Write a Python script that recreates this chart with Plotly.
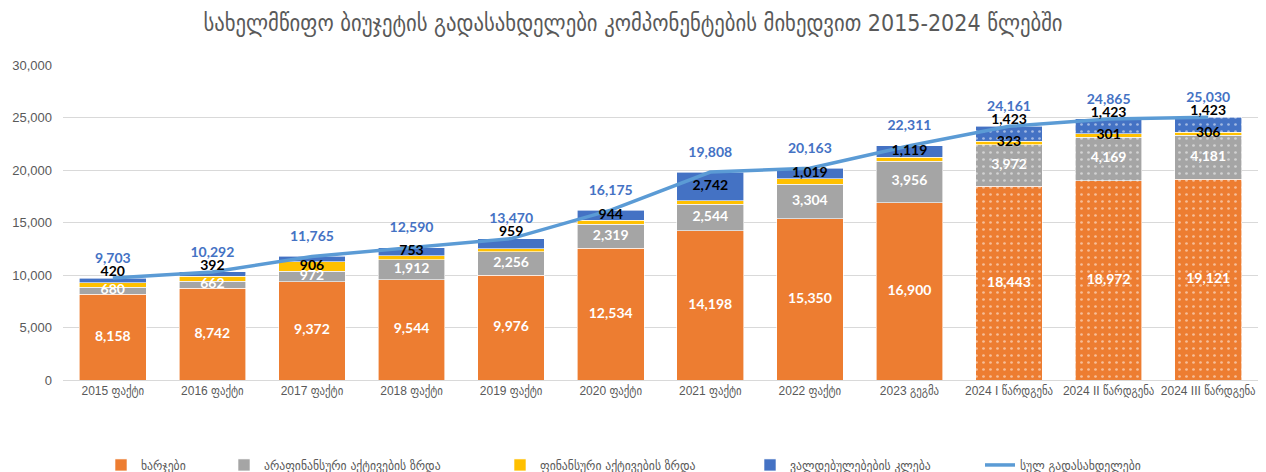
import plotly.graph_objects as go

categories = ["2015 ფაქტი", "2016 ფაქტი", "2017 ფაქტი", "2018 ფაქტი", "2019 ფაქტი",
              "2020 ფაქტი", "2021 ფაქტი", "2022 ფაქტი", "2023 გეგმა",
              "2024 I წარდგენა", "2024 II წარდგენა", "2024 III წარდგენა"]
expenses = [8158, 8742, 9372, 9544, 9976, 12534, 14198, 15350, 16900, 18443, 18972, 19121]
nonfin_assets = [680, 662, 972, 1912, 2256, 2319, 2544, 3304, 3956, 3972, 4169, 4181]
fin_assets = [445, 496, 906, 381, 279, 378, 324, 490, 336, 323, 301, 306]
liabilities = [420, 392, 515, 753, 959, 944, 2742, 1019, 1119, 1423, 1423, 1423]
totals = [9703, 10292, 11765, 12590, 13470, 16175, 19808, 20163, 22311, 24161, 24865, 25030]

# which labels are shown (as in the reference)
fin_label_shown = [False, False, True, False, False, False, False, False, False, True, True, True]
liab_label_mode = ["above", "above", "none", "in", "above", "in", "in", "in", "in", "above", "above", "above"]
is_projection = [False] * 9 + [True] * 3

names = ["ხარჯები", "არაფინანსური აქტივების ზრდა", "ფინანსური აქტივების ზრდა",
         "ვალდებულებების კლება", "სულ გადასახდელები"]
colors = ["#ED7D31", "#A5A5A5", "#FFC000", "#4472C4"]
line_color = "#5B9BD5"
total_label_color = "#4472C4"

NUM_FONT = "Lato, Liberation Sans, sans-serif"
AX_FONT = "Liberation Sans, DejaVu Sans Condensed, DejaVu Sans, sans-serif"
GEO_FONT = "DejaVu Sans Condensed, DejaVu Sans, sans-serif"

# legend placement (px from left of the page)
legend_px = [101, 224, 500, 750, 980]
legend_ids = ["legend", "legend2", "legend3", "legend4", "legend5"]

fig = go.Figure()

series = [expenses, nonfin_assets, fin_assets, liabilities]
pattern_shapes = ["." if p else "" for p in is_projection]
for i, (vals, nm, col) in enumerate(zip(series, names[:4], colors)):
    fig.add_trace(go.Bar(
        x=categories, y=vals, name=nm, legend=legend_ids[i],
        marker=dict(color=col, line=dict(color="white", width=0.6),
                    pattern=dict(shape=pattern_shapes, fgcolor="white", fillmode="overlay",
                                 size=7, solidity=0.12)),
        hoverinfo="skip",
    ))

fig.add_trace(go.Scatter(
    x=categories, y=totals, name=names[4], mode="lines", legend=legend_ids[4],
    line=dict(color=line_color, width=3.5), hoverinfo="skip",
))

exp_mid = [e / 2 for e in expenses]
nf_mid = [e + n / 2 for e, n in zip(expenses, nonfin_assets)]
fin_mid = [e + n + f / 2 for e, n, f in zip(expenses, nonfin_assets, fin_assets)]
liab_mid = [e + n + f + l / 2 for e, n, f, l in zip(expenses, nonfin_assets, fin_assets, liabilities)]


def fmt(v):
    return f"{v:,}"


def text_trace(xs, ys, texts, color):
    return go.Scatter(
        x=xs, y=ys, mode="text", text=texts,
        textfont=dict(family=NUM_FONT, size=14, color=color, weight="bold"),
        showlegend=False, hoverinfo="skip", cliponaxis=False)


fig.add_trace(text_trace(categories, exp_mid, [fmt(v) for v in expenses], "white"))
fig.add_trace(text_trace(categories, nf_mid, [fmt(v) for v in nonfin_assets], "white"))

fx = [c for c, s in zip(categories, fin_label_shown) if s]
fy = [m for m, s in zip(fin_mid, fin_label_shown) if s]
ft = [fmt(v) for v, s in zip(fin_assets, fin_label_shown) if s]
fig.add_trace(text_trace(fx, fy, ft, "black"))

lx, ly, lt = [], [], []
for c, m, t, v, mode in zip(categories, liab_mid, totals, liabilities, liab_label_mode):
    if mode == "none":
        continue
    lx.append(c)
    ly.append(m if mode == "in" else t + 550)
    lt.append(fmt(v))
fig.add_trace(text_trace(lx, ly, lt, "black"))

fig.add_trace(text_trace(categories, [t + 1800 for t in totals],
                         [fmt(v) for v in totals], total_label_color))

L, R, T, B = 63, 8, 65, 92
W, H = 1266, 472
plot_w = W - L - R

layout_legends = {}
for lid, px in zip(legend_ids, legend_px):
    layout_legends[lid] = dict(
        orientation="h", x=(px - L) / plot_w, xanchor="left",
        yref="container", y=(H - 465) / H, yanchor="middle",
        font=dict(family=GEO_FONT, size=13, color="#595959"),
        itemwidth=30, bgcolor="rgba(0,0,0,0)")

fig.update_layout(
    width=W, height=H,
    barmode="stack", bargap=0.33,
    paper_bgcolor="white", plot_bgcolor="white",
    margin=dict(l=L, r=R, t=T, b=B, autoexpand=False),
    title=dict(text="სახელმწიფო ბიუჯეტის გადასახდელები კომპონენტების მიხედვით 2015-2024 წლებში",
               x=0.5, xanchor="center", y=1 - 23 / H, yanchor="middle",
               font=dict(family=GEO_FONT, size=23, color="#595959")),
    font=dict(family=AX_FONT, color="#595959"),
    **layout_legends,
)
fig.update_xaxes(showgrid=False, showline=True, linecolor="#D9D9D9", linewidth=1,
                 tickfont=dict(family=AX_FONT, size=12, color="#595959"), ticks="",
                 range=[-0.5, len(categories) - 0.5], automargin=False)
fig.update_yaxes(range=[0, 30000], dtick=5000, tickformat=",", showgrid=True,
                 gridcolor="#D9D9D9", gridwidth=1, zeroline=False, showline=False,
                 tickfont=dict(family=AX_FONT, size=13, color="#595959"), ticks="",
                 ticklabelstandoff=10, automargin=False)

fig.write_html("out.html", config={"displayModeBar": False},
               post_script="document.body.style.margin='0';document.body.style.overflow='hidden';")
